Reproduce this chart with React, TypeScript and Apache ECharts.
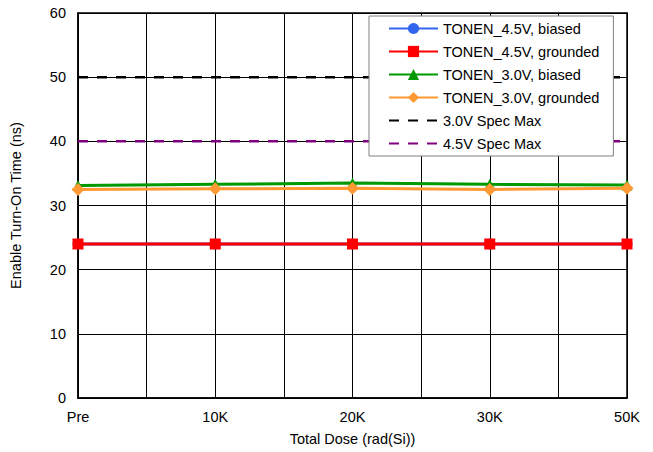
import React, { useEffect, useRef } from "react";
import * as echarts from "echarts";

const categories = ["Pre", "10K", "20K", "30K", "50K"];
const yTicks = [0, 10, 20, 30, 40, 50, 60];
const biased45 = [24.0, 24.0, 24.0, 24.0, 24.0];
const grounded45 = [24.0, 24.0, 24.0, 24.0, 24.0];
const biased30 = [33.1, 33.3, 33.5, 33.3, 33.2];
const grounded30 = [32.5, 32.6, 32.7, 32.5, 32.7];
const specMax30 = [50, 50, 50, 50, 50];
const specMax45 = [40, 40, 40, 40, 40];

const FONT = 'Arial, "Liberation Sans", sans-serif';
const FS = 14.5;

const toPairs = (vals: number[]) => vals.map((v, i) => [i, v]);

export default function App() {
  const ref = useRef<HTMLDivElement>(null);
  useEffect(() => {
    if (!ref.current) return;
    const chart = echarts.init(ref.current, undefined, { renderer: "svg" });
    const noSym = { color: "rgba(0,0,0,0)", borderWidth: 0, opacity: 0 };
    chart.setOption({
      animation: false,
      backgroundColor: "#ffffff",
      textStyle: { fontFamily: FONT, color: "#000" },
      grid: {
        left: 78,
        right: 26,
        top: 13,
        bottom: 54,
        show: true,
        borderColor: "#000",
        borderWidth: 1.5,
        backgroundColor: "transparent",
      },
      legend: {
        orient: "vertical",
        left: 369,
        top: 16,
        padding: [5, 14, 5, 19],
        backgroundColor: "#ffffff",
        borderColor: "#808080",
        borderWidth: 1,
        itemWidth: 49,
        itemHeight: 14,
        itemGap: 8,
        textStyle: { fontFamily: FONT, fontSize: FS, color: "#000" },
        data: [
          { name: "TONEN_4.5V, biased" },
          { name: "TONEN_4.5V, grounded" },
          { name: "TONEN_3.0V, biased" },
          { name: "TONEN_3.0V, grounded" },
          { name: "3.0V Spec Max", itemStyle: noSym },
          { name: "4.5V Spec Max", itemStyle: noSym },
        ],
      },
      xAxis: {
        type: "value",
        min: 0,
        max: categories.length - 1,
        interval: 0.5,
        name: "Total Dose (rad(Si))",
        nameLocation: "middle",
        nameGap: 33,
        nameTextStyle: { fontFamily: FONT, fontSize: FS, color: "#000" },
        axisLine: { show: true, lineStyle: { color: "#000", width: 1.5 } },
        axisTick: { show: false },
        axisLabel: {
          fontFamily: FONT,
          fontSize: FS,
          color: "#000",
          margin: 11,
          formatter: (v: number) =>
            Number.isInteger(v) ? categories[v] ?? "" : "",
        },
        splitLine: { show: true, lineStyle: { color: "#000", width: 1 } },
      },
      yAxis: {
        type: "value",
        min: yTicks[0],
        max: yTicks[yTicks.length - 1],
        interval: 10,
        name: "Enable Turn-On Time (ns)",
        nameLocation: "middle",
        nameGap: 55,
        nameTextStyle: { fontFamily: FONT, fontSize: FS, color: "#000" },
        axisLine: { show: true, lineStyle: { color: "#000", width: 1.5 } },
        axisTick: { show: false },
        axisLabel: { fontFamily: FONT, fontSize: FS, color: "#000", margin: 12 },
        splitLine: { show: true, lineStyle: { color: "#000", width: 1 } },
      },
      series: [
        {
          name: "3.0V Spec Max",
          type: "line",
          data: toPairs(specMax30),
          symbol: "none",
          lineStyle: { color: "#000", width: 2.5, type: [10, 9] },
          itemStyle: { color: "#000" },
          z: 3,
        },
        {
          name: "4.5V Spec Max",
          type: "line",
          data: toPairs(specMax45),
          symbol: "none",
          lineStyle: { color: "#800080", width: 2.5, type: [10, 9] },
          itemStyle: { color: "#800080" },
          z: 3,
        },
        {
          name: "TONEN_4.5V, biased",
          type: "line",
          data: toPairs(biased45),
          symbol: "circle",
          symbolSize: 11,
          lineStyle: { color: "#3366ee", width: 3 },
          itemStyle: { color: "#3366ee" },
          z: 4,
        },
        {
          name: "TONEN_4.5V, grounded",
          type: "line",
          data: toPairs(grounded45),
          symbol: "rect",
          symbolSize: 11,
          lineStyle: { color: "#ff0000", width: 3 },
          itemStyle: { color: "#ff0000" },
          z: 5,
        },
        {
          name: "TONEN_3.0V, biased",
          type: "line",
          data: toPairs(biased30),
          symbol: "triangle",
          symbolSize: 11,
          lineStyle: { color: "#009900", width: 3 },
          itemStyle: { color: "#009900" },
          z: 4,
        },
        {
          name: "TONEN_3.0V, grounded",
          type: "line",
          data: toPairs(grounded30),
          symbol: "diamond",
          symbolSize: 13,
          lineStyle: { color: "#ff9933", width: 3 },
          itemStyle: { color: "#ff9933" },
          z: 5,
        },
      ],
    });
    return () => chart.dispose();
  }, []);
  return (
    <div
      ref={ref}
      style={{ position: "fixed", left: 0, top: 0, width: 653, height: 452 }}
    />
  );
}
